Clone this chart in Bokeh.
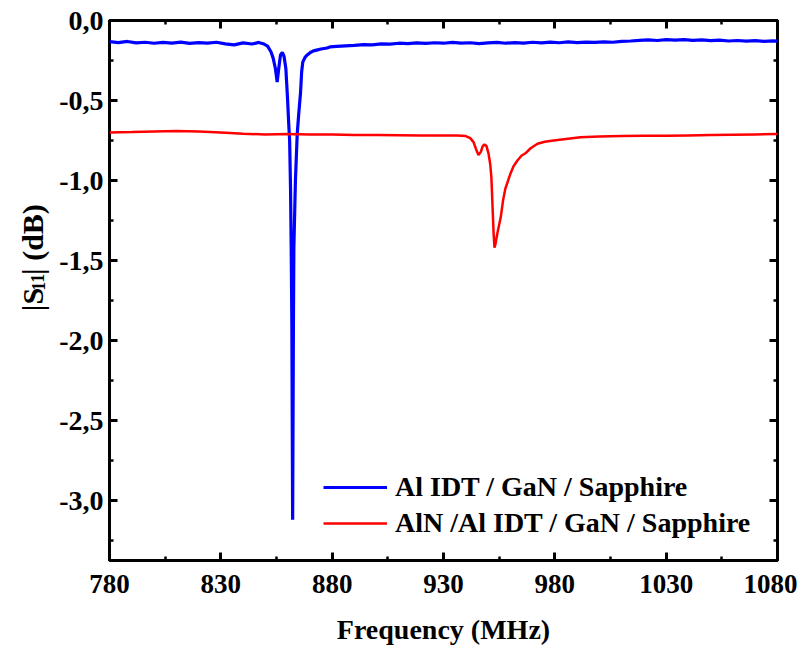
from bokeh.plotting import figure
from bokeh.layouts import row
from bokeh.core.properties import value
from bokeh.models import (FixedTicker, CustomJSTickFormatter, LinearAxis,
                          Legend, LegendItem, Range1d)
from bokeh.embed import file_html
from bokeh.resources import INLINE

# |S11| of the two devices (MHz, dB)
blue_freq = [780, 784, 788, 792, 796, 800, 804, 808, 812, 816, 820, 824, 828, 832,
             836, 840, 844, 847, 849, 851, 852.5, 853.5, 854.5, 855.3, 856, 856.8,
             857.6, 858.4, 859.2, 860, 860.5, 860.9, 861.3, 861.6, 861.9, 862.1,
             862.25, 862.4, 862.6, 862.8, 863.5, 864.3, 865, 865.8, 866.3, 866.8,
             867.8, 868.8, 870.2, 871.6, 873, 875, 877.7, 879, 882, 886, 890, 894,
             898, 902, 906, 910, 914, 918, 922, 926, 930, 934, 938, 942, 946, 950,
             954, 958, 962, 966, 970, 974, 978, 982, 986, 990, 994, 998, 1002, 1006,
             1010, 1014, 1018, 1022, 1026, 1030, 1034, 1038, 1042, 1046, 1050, 1054,
             1058, 1062, 1066, 1070, 1074, 1078, 1080]
blue_s11 = [-0.132, -0.138, -0.131, -0.140, -0.136, -0.142, -0.137, -0.141, -0.135,
            -0.143, -0.138, -0.141, -0.136, -0.146, -0.152, -0.140, -0.147, -0.137,
            -0.145, -0.160, -0.195, -0.235, -0.300, -0.385, -0.300, -0.215, -0.200,
            -0.225, -0.300, -0.500, -0.650, -0.750, -1.050, -1.420, -1.900, -2.600,
            -3.120, -2.600, -1.900, -1.420, -1.000, -0.710, -0.580, -0.450, -0.320,
            -0.260, -0.230, -0.215, -0.200, -0.190, -0.185, -0.178, -0.172, -0.165,
            -0.162, -0.158, -0.156, -0.151, -0.152, -0.146, -0.148, -0.142, -0.145,
            -0.140, -0.143, -0.139, -0.142, -0.137, -0.141, -0.139, -0.144, -0.140,
            -0.137, -0.142, -0.138, -0.141, -0.136, -0.140, -0.135, -0.139, -0.134,
            -0.138, -0.135, -0.137, -0.133, -0.136, -0.130, -0.128, -0.124, -0.121,
            -0.125, -0.120, -0.123, -0.119, -0.124, -0.121, -0.126, -0.123, -0.128,
            -0.125, -0.129, -0.126, -0.130, -0.127, -0.129]

red_freq = [780, 790, 800, 810, 820, 830, 840, 850, 860, 870, 880, 890, 900, 910,
            920, 930, 936, 940, 942, 943.5, 944.5, 945.7, 946.8, 947.6, 948.4,
            949.3, 950.2, 951, 951.5, 952.1, 952.5, 952.9, 953.3, 954.2, 955.7,
            956.8, 957.8, 960, 961.5, 963.2, 965, 966.8, 969, 972.2, 975.5, 979.4,
            985, 991.5, 1000, 1010, 1020, 1030, 1040, 1050, 1060, 1070, 1080]
red_s11 = [-0.700, -0.697, -0.693, -0.690, -0.693, -0.700, -0.708, -0.712, -0.710,
           -0.712, -0.713, -0.715, -0.716, -0.717, -0.718, -0.718, -0.718, -0.722,
           -0.735, -0.760, -0.800, -0.840, -0.820, -0.785, -0.775, -0.785, -0.830,
           -0.900, -0.980, -1.190, -1.330, -1.420, -1.400, -1.330, -1.230, -1.120,
           -1.050, -0.960, -0.910, -0.875, -0.845, -0.830, -0.800, -0.770, -0.758,
           -0.750, -0.740, -0.730, -0.725, -0.722, -0.720, -0.720, -0.718, -0.716,
           -0.714, -0.712, -0.710]

series_names = ["Al IDT / GaN / Sapphire", "AlN /Al IDT / GaN / Sapphire"]

x_ticks = [780, 830, 880, 930, 980, 1030, 1080]
x_minor = [805, 855, 905, 955, 1005, 1055]
y_ticks = [0.0, -0.5, -1.0, -1.5, -2.0, -2.5, -3.0]
y_minor = [-0.25, -0.75, -1.25, -1.75, -2.25, -2.75, -3.25]

# y title pieces: |S, subscript 11, | (dB)
ytitle_main = ["|S", "| (dB)"]
ytitle_sub = ["11"]

FONT = "Liberation Serif"
LAB_W = 50    # strip on the left that holds the y title
TOTAL_H = 640

p = figure(frame_width=668, frame_height=540,
           x_range=Range1d(780, 1080), y_range=Range1d(-3.375, 0),
           output_backend="svg", toolbar_location=None,
           min_border_left=109 - LAB_W, min_border_top=20,
           min_border_right=20, min_border_bottom=TOTAL_H - 560)
p.xgrid.visible = False
p.ygrid.visible = False
p.outline_line_color = "black"
p.outline_line_width = 3

blue = p.line(blue_freq, blue_s11, line_color="#0000ff", line_width=3.2)
red = p.line(red_freq, red_s11, line_color="#ff0000", line_width=2.5)

comma = CustomJSTickFormatter(code="return tick.toFixed(1).replace('.', ',');")
plain = CustomJSTickFormatter(code="return tick.toFixed(0);")
blank = CustomJSTickFormatter(code="return '';")


def style_axis(ax, ticks, minor):
    ax.ticker = FixedTicker(ticks=ticks, minor_ticks=minor)
    ax.axis_line_color = None
    ax.major_tick_in = 8
    ax.major_tick_out = 0
    ax.minor_tick_in = 4
    ax.minor_tick_out = 0
    ax.major_tick_line_width = 3
    ax.minor_tick_line_width = 2.5
    ax.major_label_text_font = FONT
    ax.major_label_text_font_style = "bold"
    ax.major_label_text_font_size = "27px"
    ax.major_label_text_color = "black"


style_axis(p.xaxis[0], x_ticks, x_minor)
style_axis(p.yaxis[0], y_ticks, y_minor)
p.xaxis[0].formatter = plain
p.yaxis[0].formatter = comma
p.xaxis[0].major_label_standoff = 14
p.yaxis[0].major_label_standoff = 6
p.yaxis[0].major_label_text_font_size = "28px"

p.xaxis[0].axis_label = "Frequency (MHz)"
p.xaxis[0].axis_label_text_font = FONT
p.xaxis[0].axis_label_text_font_style = "bold"
p.xaxis[0].axis_label_text_font_size = "28px"
p.xaxis[0].axis_label_text_color = "black"
p.xaxis[0].axis_label_standoff = 18

# mirrored ticks on top and right, no labels
top = LinearAxis()
style_axis(top, x_ticks, x_minor)
top.formatter = blank
top.major_label_text_font_size = "1px"
top.major_label_standoff = 0
p.add_layout(top, "above")
right = LinearAxis()
style_axis(right, y_ticks, y_minor)
right.formatter = blank
right.major_label_text_font_size = "1px"
right.major_label_standoff = 0
p.add_layout(right, "right")

legend = Legend(items=[LegendItem(label=series_names[0], renderers=[blue]),
                       LegendItem(label=series_names[1], renderers=[red])],
                location=(214, 19))
legend.border_line_color = None
legend.background_fill_alpha = 0
legend.padding = 0
legend.margin = 0
legend.spacing = 0
legend.glyph_width = 64
legend.glyph_height = 36
legend.label_height = 36
legend.label_standoff = 8
legend.label_text_font = FONT
legend.label_text_font_style = "bold"
legend.label_text_font_size = "28px"
legend.label_text_color = "black"
p.add_layout(legend)

# y title |S11| (dB) with a real subscript, in a narrow strip on the left
# (1 unit = 1 px; positions tuned by eye against the rendered page)
lab = figure(width=LAB_W, height=TOTAL_H, x_range=Range1d(0, LAB_W),
             y_range=Range1d(0, TOTAL_H), output_backend="svg",
             toolbar_location=None, min_border=0, title=None,
             x_axis_type=None, y_axis_type=None)
lab.grid.visible = False
lab.outline_line_color = None
lab.text(x=[32, 32], y=[291, 334.5], text=ytitle_main,
         angle=1.5708, text_font=value(FONT), text_font_style="bold",
         text_font_size="30px", text_color="black",
         text_align="left", text_baseline="alphabetic")
lab.text(x=[37.5], y=[315.5], text=ytitle_sub,
         angle=1.5708, text_font=value(FONT), text_font_style="bold",
         text_font_size="18px", text_color="black",
         text_align="left", text_baseline="alphabetic")

page = row(lab, p)
open("out.html", "w").write(file_html(page, INLINE))
